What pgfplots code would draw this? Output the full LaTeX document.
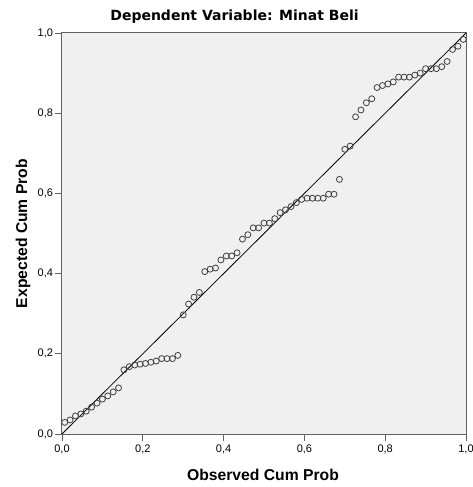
\documentclass[border=0pt]{standalone}
\usepackage{pgfplots}
\pgfplotsset{compat=1.18}
\usepackage{fontspec}
\setmainfont{Liberation Sans}
\newfontfamily\dejavu{DejaVu Sans}
\usetikzlibrary{calc}

\definecolor{plotbg}{HTML}{F0F0F0}
\definecolor{frame}{HTML}{606060}
\definecolor{markc}{HTML}{404040}

\pgfplotstableread{
x y
0.0067 0.029
0.0200 0.035
0.0333 0.045
0.0467 0.050
0.0600 0.057
0.0733 0.067
0.0867 0.077
0.1000 0.087
0.1133 0.095
0.1267 0.105
0.1400 0.115
0.1533 0.160
0.1667 0.168
0.1800 0.172
0.1933 0.174
0.2067 0.176
0.2200 0.179
0.2333 0.182
0.2467 0.188
0.2600 0.188
0.2733 0.188
0.2867 0.196
0.3000 0.297
0.3133 0.324
0.3267 0.341
0.3400 0.353
0.3533 0.405
0.3667 0.411
0.3800 0.414
0.3933 0.434
0.4067 0.444
0.4200 0.444
0.4333 0.452
0.4467 0.486
0.4600 0.497
0.4733 0.514
0.4867 0.514
0.5000 0.526
0.5133 0.526
0.5267 0.537
0.5400 0.552
0.5533 0.559
0.5667 0.567
0.5800 0.577
0.5933 0.585
0.6067 0.588
0.6200 0.588
0.6333 0.588
0.6467 0.588
0.6600 0.598
0.6733 0.598
0.6867 0.635
0.7000 0.710
0.7133 0.718
0.7267 0.791
0.7400 0.808
0.7533 0.826
0.7667 0.836
0.7800 0.864
0.7933 0.869
0.8067 0.873
0.8200 0.878
0.8333 0.890
0.8467 0.890
0.8600 0.890
0.8733 0.895
0.8867 0.900
0.9000 0.911
0.9133 0.911
0.9267 0.911
0.9400 0.916
0.9533 0.929
0.9667 0.959
0.9800 0.967
0.9933 0.984
}\pptable

\begin{document}
\begin{tikzpicture}
\begin{axis}[
    name=ax,
    scale only axis,
    width=404bp, height=401bp,
    xmin=0, xmax=1, ymin=0, ymax=1,
    xtick={0,0.2,0.4,0.6,0.8,1},
    ytick={0,0.2,0.4,0.6,0.8,1},
    tick pos=left,
    tick align=outside,
    major tick length=7bp,
    tick style={frame, line width=0.8bp},
    axis line style={frame, line width=1bp},
    axis background/.style={fill=plotbg},
    ticklabel style={font=\fontsize{11bp}{13bp}\selectfont, text=black},
    yticklabel style={xshift=1.5bp},
    /pgf/number format/.cd, fixed, fixed zerofill, precision=1, use comma, assume math mode=true,
    /pgfplots/.cd,
    clip=false,
  ]
  % diagonal reference line
  \addplot[black, line width=0.8bp] coordinates {(0,0) (1,1)};
  \addplot[only marks, mark=o, mark size=3bp, draw=markc, mark options={line width=0.8bp}] table[x=x, y=y] {\pptable};
\end{axis}

\node[font=\dejavu\bfseries\fontsize{14bp}{16bp}\selectfont, anchor=base]
  at ($(ax.north west)+(172.5bp,12bp)$) {Dependent Variable: Minat Beli};
\node[font=\bfseries\fontsize{15.7bp}{18bp}\selectfont, anchor=base]
  at ($(ax.south west)+(201bp,-46bp)$) {Observed Cum Prob};
\node[font=\bfseries\fontsize{15.7bp}{18bp}\selectfont, anchor=base, rotate=90]
  at ($(ax.south west)+(-35bp,200.5bp)$) {Expected Cum Prob};

\pgfresetboundingbox
\path ($(ax.south west)+(-62bp,-53bp)$) rectangle ($(ax.north east)+(7bp,33bp)$);
\end{tikzpicture}
\end{document}
